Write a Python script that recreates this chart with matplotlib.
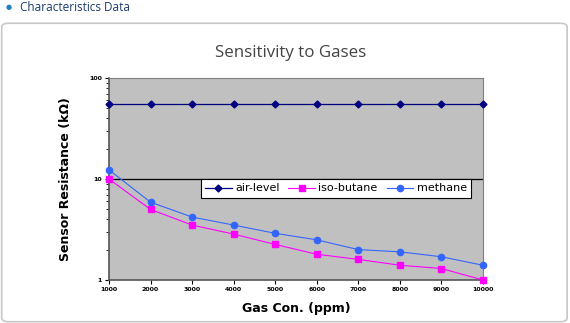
import matplotlib.pyplot as plt
from matplotlib.patches import FancyBboxPatch
from matplotlib.ticker import FixedLocator, NullFormatter

# Gas concentration (ppm) and sensor resistance (kOhm)
concentration = [1000, 2000, 3000, 4000, 5000, 6000, 7000, 8000, 9000, 10000]
air_level = [55, 55, 55, 55, 55, 55, 55, 55, 55, 55]
iso_butane = [10.0, 5.0, 3.5, 2.85, 2.25, 1.8, 1.6, 1.4, 1.3, 1.0]
methane = [12.3, 5.9, 4.2, 3.5, 2.9, 2.5, 2.0, 1.9, 1.7, 1.4]

fig = plt.figure(figsize=(5.7, 3.23), dpi=100)
fig.patch.set_facecolor('white')

# outer panel with rounded border, kept behind the axes
panel = FancyBboxPatch((0.003, 0.004), 0.992, 0.924, boxstyle='round,pad=0,rounding_size=0.012',
                       transform=fig.transFigure, facecolor='white', edgecolor='#c8c8c8',
                       linewidth=1.2, zorder=-5)
fig.patches.append(panel)

# header
fig.text(0.009, 0.977, '\u25cf', color='#1f7fc4', fontsize=5, va='center', ha='left')
fig.text(0.035, 0.977, 'Characteristics Data', color='#1a3d6e', fontsize=8.5,
         va='center', ha='left', family='Open Sans')

fig.text(0.509, 0.835, 'Sensitivity to Gases', color='#444444', fontsize=12.2,
         ha='center', va='center', family='Open Sans')

ax = fig.add_axes([0.1912, 0.1331, 0.656, 0.6254])
ax.set_facecolor('#c0c0c0')
ax.set_yscale('log')
ax.set_ylim(1, 100)
ax.set_xlim(1000, 10000)

ax.axhline(10, color='black', linewidth=0.9, zorder=1)

ax.plot(concentration, air_level, color='#000080', marker='D', markersize=3.5,
        linewidth=0.9, label='air-level', zorder=3, clip_on=False)
ax.plot(concentration, iso_butane, color='#ff00ff', marker='s', markersize=4.5,
        linewidth=0.8, label='iso-butane', zorder=3, clip_on=False)
ax.plot(concentration, methane, color='#3366ff', marker='o', markersize=4.5,
        linewidth=0.8, label='methane', zorder=3, clip_on=False)

ax.set_xticks(concentration)
ax.set_xticklabels([str(c) for c in concentration], fontsize=4.5, fontweight='bold')
ax.set_yticks([1, 10, 100])
ax.set_yticklabels(['1', '10', '100'], fontsize=4.5, fontweight='bold')
ax.yaxis.set_minor_locator(FixedLocator([2, 3, 4, 5, 6, 7, 8, 9, 20, 30, 40, 50, 60, 70, 80, 90]))
ax.yaxis.set_minor_formatter(NullFormatter())
ax.tick_params(axis='both', which='major', length=3, width=0.8, pad=2)
ax.tick_params(axis='y', which='minor', length=2, width=0.6)

for side in ['left', 'bottom']:
    ax.spines[side].set_color('#555555')
    ax.spines[side].set_linewidth(1.2)
for side in ['top', 'right']:
    ax.spines[side].set_color('#808080')
    ax.spines[side].set_linewidth(0.8)

ax.set_xlabel('Gas Con. (ppm)', fontsize=9, fontweight='bold', labelpad=7)
ax.set_ylabel('Sensor Resistance (k\u03a9)', fontsize=9, fontweight='bold', labelpad=12)

leg = ax.legend(loc='upper left', bbox_to_anchor=(0.245, 0.5), ncol=3, fontsize=8,
                frameon=True, fancybox=False, edgecolor='black', framealpha=1,
                handlelength=2.4, handletextpad=0.3, columnspacing=0.8,
                borderpad=0.4, borderaxespad=0)
leg.get_frame().set_linewidth(0.8)

plt.savefig('out.png', dpi=100, facecolor='white')
plt.close(fig)
